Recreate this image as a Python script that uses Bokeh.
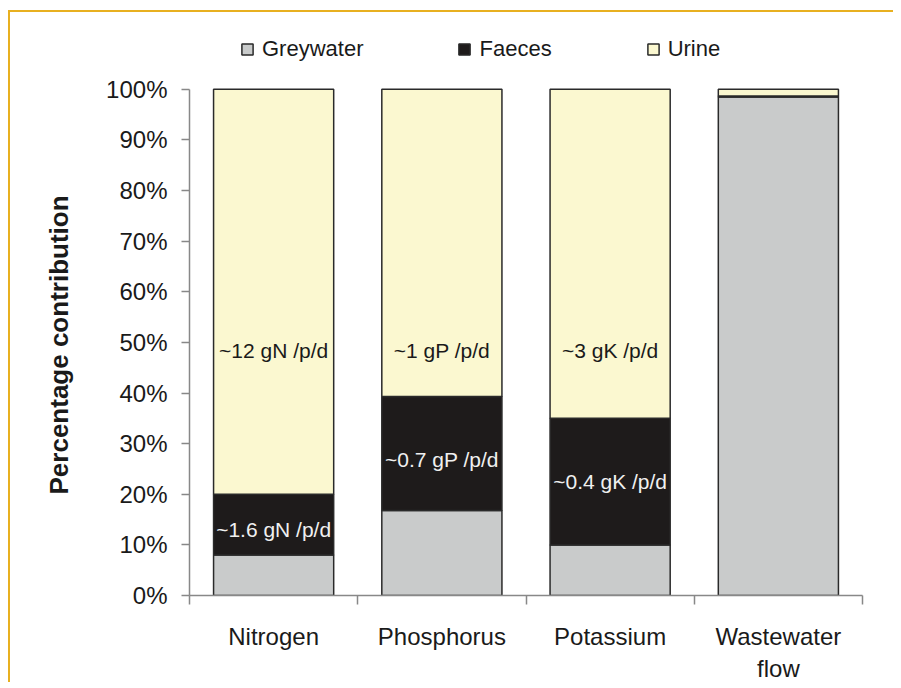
from bokeh.plotting import figure
from bokeh.models import FixedTicker, Legend, LegendItem, ColumnDataSource, Title
from bokeh.core.properties import value
from bokeh.embed import file_html
from bokeh.resources import INLINE

categories = ["Nitrogen", "Phosphorus", "Potassium", "Wastewater\nflow"]
greywater = [8.0, 16.8, 10.0, 98.5]
faeces = [12.0, 22.5, 25.0, 0.2]
urine = [80.0, 60.7, 65.0, 1.3]
urine_labels = ["~12 gN /p/d", "~1 gP /p/d", "~3 gK /p/d", ""]
faeces_labels = ["~1.6 gN /p/d", "~0.7 gP /p/d", "~0.4 gK /p/d", ""]
urine_label_y = [48.5, 48.5, 48.5, 0]
faeces_label_y = [13.0, 26.8, 22.5, 0]
yticks = [0, 10, 20, 30, 40, 50, 60, 70, 80, 90, 100]

FONT = "Liberation Sans"
xs = [i + 0.5 for i in range(len(categories))]
bottom_f = [g for g in greywater]
bottom_u = [g + f for g, f in zip(greywater, faeces)]
top_u = [b + u for b, u in zip(bottom_u, urine)]

src = ColumnDataSource(dict(x=xs, g=greywater, bf=bottom_f, tf=bottom_u, bu=bottom_u, tu=top_u,
                            ul=urine_labels, fl=faeces_labels, uy=urine_label_y, fy=faeces_label_y))

# frame extends above 100% to host the legend; the y axis itself stops at 100%
p = figure(width=885, height=672, output_backend="svg", toolbar_location=None,
           x_range=(0, 4), y_range=(0, 113.6),
           min_border_left=179, min_border_right=33, min_border_top=8, min_border_bottom=88)
p.outline_line_color = None
p.xgrid.visible = False
p.ygrid.visible = False
p.background_fill_color = "white"
p.border_fill_color = "white"
p.styles = {"border-top": "2px solid #E8B020", "border-left": "2px solid #E8B020",
            "margin-top": "10px", "margin-left": "8px"}

W = 0.714
rg = p.vbar(x="x", top="g", bottom=0, width=W, source=src, fill_color="#C9CBCB",
            line_color="#2a2a2a", line_width=1.5)
rf = p.vbar(x="x", top="tf", bottom="bf", width=W, source=src, fill_color="#1E1B1B",
            line_color="#2a2a2a", line_width=1.5)
ru = p.vbar(x="x", top="tu", bottom="bu", width=W, source=src, fill_color="#FBF8D0",
            line_color="#2a2a2a", line_width=1.5)

p.text(x="x", y="uy", text="ul", source=src, text_align="center", text_baseline="middle",
       text_font=value(FONT), text_font_size="21px", text_color="#1a1a1a")
p.text(x="x", y="fy", text="fl", source=src, text_align="center", text_baseline="middle",
       text_font=value(FONT), text_font_size="21px", text_color="#f0f0f0")

# axes
p.xaxis.ticker = FixedTicker(ticks=xs, minor_ticks=[0, 1, 2, 3, 4])
p.xaxis.major_label_overrides = {x: c for x, c in zip(xs, categories)}
p.xaxis.major_tick_out = 0
p.xaxis.major_tick_in = 0
p.xaxis.minor_tick_out = 9
p.xaxis.minor_tick_in = 0
p.xaxis.minor_tick_line_color = "#888888"
p.xaxis.axis_line_color = "#888888"
p.xaxis.axis_line_width = 1.5
p.xaxis.minor_tick_line_width = 1.5
p.xaxis.major_label_text_font = FONT
p.xaxis.major_label_text_font_size = "24px"
p.xaxis.major_label_text_color = "#1a1a1a"
p.xaxis.major_label_standoff = 18

p.yaxis.bounds = (0, 100)
p.yaxis.ticker = FixedTicker(ticks=yticks, minor_ticks=[])
p.yaxis.major_label_overrides = {t: f"{t}%" for t in yticks}
p.yaxis.major_tick_out = 8
p.yaxis.major_tick_in = 0
p.yaxis.major_tick_line_color = "#888888"
p.yaxis.major_tick_line_width = 1.5
p.yaxis.axis_line_color = "#888888"
p.yaxis.axis_line_width = 1.5
p.yaxis.major_label_text_font = FONT
p.yaxis.major_label_text_font_size = "24px"
p.yaxis.major_label_text_color = "#1a1a1a"
p.yaxis.major_label_standoff = 14

ylabel = Title(text="Percentage contribution", align="left", offset=101, standoff=60,
               text_font=FONT, text_font_style="bold", text_font_size="26px",
               text_color="#1a1a1a")
p.add_layout(ylabel, "left")

legend = Legend(items=[LegendItem(label="Greywater", renderers=[rg]),
                       LegendItem(label="Faeces", renderers=[rf]),
                       LegendItem(label="Urine", renderers=[ru])],
                orientation="horizontal", location=(51, 533),
                label_text_font=FONT, label_text_font_size="22px", label_text_color="#1a1a1a",
                glyph_width=14, glyph_height=14, label_standoff=8, spacing=94,
                border_line_color=None, background_fill_alpha=0, padding=4, margin=0)
p.add_layout(legend, "center")

open("out.html", "w").write(file_html(p, INLINE))
